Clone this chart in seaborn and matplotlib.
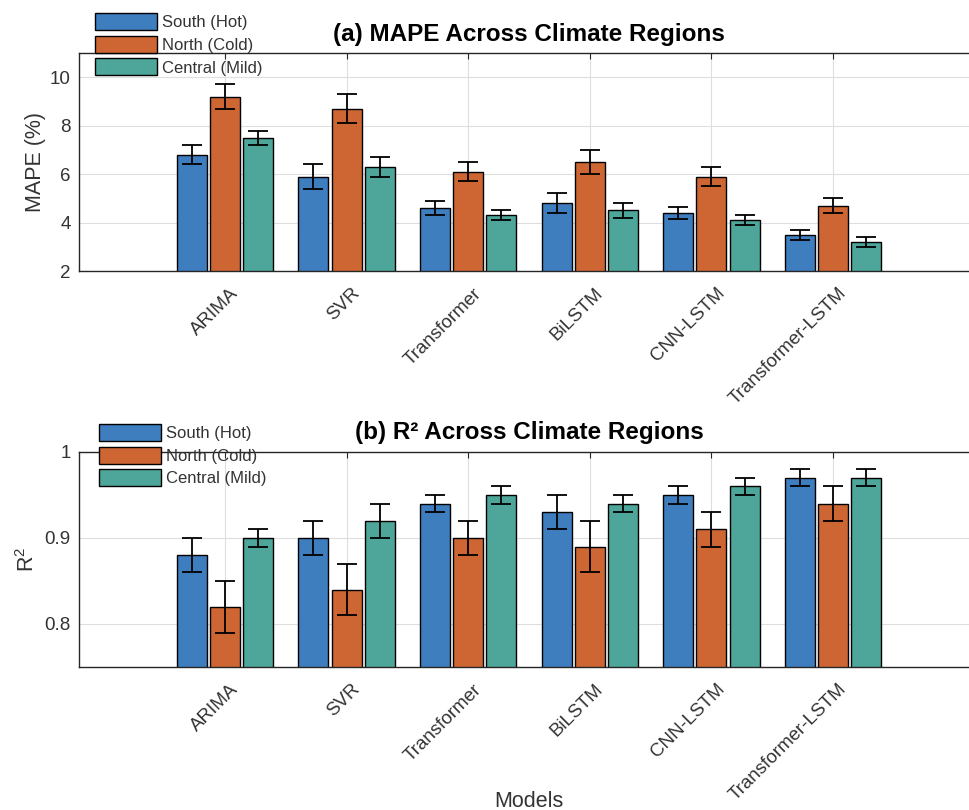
import numpy as np
import pandas as pd
import matplotlib
matplotlib.use("Agg")
import matplotlib.pyplot as plt
import matplotlib.transforms as mtransforms
import seaborn as sns
from matplotlib.patches import Patch

models = ["ARIMA", "SVR", "Transformer", "BiLSTM", "CNN-LSTM", "Transformer-LSTM"]
regions = ["South (Hot)", "North (Cold)", "Central (Mild)"]

mape_south = [6.8, 5.9, 4.6, 4.8, 4.4, 3.5]
mape_north = [9.2, 8.7, 6.1, 6.5, 5.9, 4.7]
mape_central = [7.5, 6.3, 4.3, 4.5, 4.1, 3.2]
mape_south_err = [0.4, 0.5, 0.3, 0.4, 0.25, 0.2]
mape_north_err = [0.5, 0.6, 0.4, 0.5, 0.4, 0.3]
mape_central_err = [0.3, 0.4, 0.2, 0.3, 0.2, 0.2]

r2_south = [0.88, 0.90, 0.94, 0.93, 0.95, 0.97]
r2_north = [0.82, 0.84, 0.90, 0.89, 0.91, 0.94]
r2_central = [0.90, 0.92, 0.95, 0.94, 0.96, 0.97]
r2_south_err = [0.02, 0.02, 0.01, 0.02, 0.01, 0.01]
r2_north_err = [0.03, 0.03, 0.02, 0.03, 0.02, 0.02]
r2_central_err = [0.01, 0.02, 0.01, 0.01, 0.01, 0.01]

mape_ticks = [2, 4, 6, 8, 10]
r2_ticks = [0.8, 0.9, 1.0]
r2_tick_labels = ["0.8", "0.9", "1"]

colors = ["#3E7DBE", "#CD6633", "#4DA699"]
TXT = "#333333"
AX = "#262626"

sns.set_style("white")
plt.rcParams["font.family"] = ["Liberation Sans", "DejaVu Sans"]
plt.rcParams["mathtext.fontset"] = "custom"
plt.rcParams["mathtext.rm"] = "Liberation Sans"
plt.rcParams["mathtext.it"] = "Liberation Sans:italic"


def long_table(vals, errs):
    rows = []
    for reg, v, e in zip(regions, vals, errs):
        for m, vv, ee in zip(models, v, e):
            rows.append((m, reg, vv, ee))
    return pd.DataFrame(rows, columns=["Model", "Region", "Value", "Err"])


def draw_panel(fig, ax, df, ylim, yticks, yticklabels, title, ylabel, ylabel_x):
    sns.barplot(data=df, x="Model", y="Value", hue="Region", order=models,
                hue_order=regions, palette=colors, saturation=1, width=0.82,
                gap=0.1, edgecolor="black", linewidth=1.0, errorbar=None,
                legend=False, ax=ax, zorder=2)
    for cont, reg in zip(ax.containers, regions):
        sub = df[df["Region"] == reg].set_index("Model").loc[models]
        xs = [b.get_x() + b.get_width() / 2 for b in cont]
        ax.errorbar(xs, sub["Value"].values, yerr=sub["Err"].values, fmt="none",
                    ecolor="black", elinewidth=1.3, capsize=7.5, capthick=1.3,
                    zorder=3)
    ax.set_xlim(-1.2, 6.2)
    ax.set_ylim(*ylim)
    ax.set_yticks(yticks)
    ax.set_yticklabels(yticklabels)
    ax.set_xticks(range(len(models)))
    ax.set_axisbelow(True)
    ax.grid(True, color="#dedede", linewidth=0.8)
    ax.tick_params(direction="in", length=4, top=True, right=True, color=AX,
                   labelcolor=TXT, labelsize=13.5, pad=6)
    ax.tick_params(axis="x", pad=10)
    ax.set_xticklabels(models, rotation=45, ha="right", va="top",
                       rotation_mode="anchor")
    # nudge the slanted model names a little to the right of their ticks
    shift = mtransforms.ScaledTranslation(5 / 100, 0, fig.dpi_scale_trans)
    for tick in ax.xaxis.get_major_ticks():
        tick.label1.set_transform(tick.label1.get_transform() + shift)
    for s in ax.spines.values():
        s.set_visible(True)
        s.set_color(AX)
        s.set_linewidth(1.0)
    ax.set_title(title, fontsize=17.5, fontweight="bold", pad=9, color="black")
    ax.set_xlabel("")
    ax.set_ylabel(ylabel, fontsize=15.5, color=TXT)
    ax.yaxis.set_label_coords(ylabel_x, 0.5)


fig = plt.figure(figsize=(9.69, 8.10), dpi=100)
W, H = 969.0, 810.0
ax1 = fig.add_axes([79 / W, 1 - 271 / H, 900 / W, 218 / H])
ax2 = fig.add_axes([79 / W, 1 - 667 / H, 900 / W, 215 / H])

draw_panel(fig, ax1, long_table([mape_south, mape_north, mape_central],
                                [mape_south_err, mape_north_err, mape_central_err]),
           (2, 11), mape_ticks, [str(t) for t in mape_ticks],
           "(a) MAPE Across Climate Regions", "MAPE (%)", -0.037)
draw_panel(fig, ax2, long_table([r2_south, r2_north, r2_central],
                                [r2_south_err, r2_north_err, r2_central_err]),
           (0.75, 1.0), r2_ticks, r2_tick_labels,
           "(b) R\u00b2 Across Climate Regions", r"$\mathrm{R}^2$", -0.045)

ax2.set_xlabel("Models", fontsize=15.5, color=TXT)
ax2.xaxis.set_label_coords(0.5, -0.575)

handles = [Patch(facecolor=c, edgecolor="black", linewidth=1.0) for c in colors]
for ax_x, ax_y in [(95, 13), (99, 424)]:
    fig.legend(handles, regions, loc="upper left",
               bbox_to_anchor=(ax_x / W, 1 - ax_y / H), frameon=False,
               fontsize=12, labelcolor=TXT, handlelength=3.7, handleheight=1.2,
               labelspacing=0.33, handletextpad=0.3, borderpad=0,
               borderaxespad=0)

fig.savefig("out.png", dpi=100)
